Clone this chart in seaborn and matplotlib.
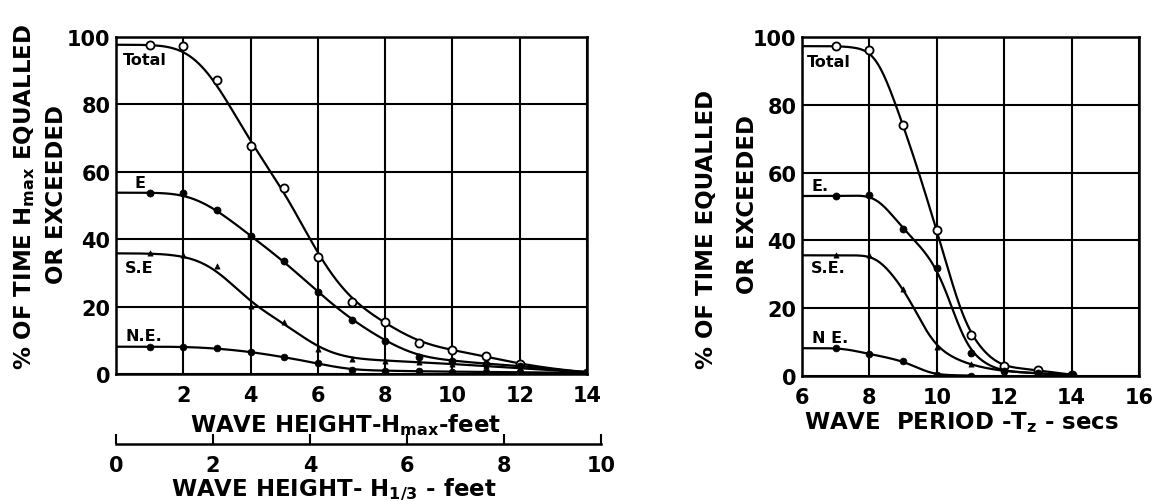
import numpy as np
import pandas as pd
import matplotlib
matplotlib.use("Agg")
import matplotlib.pyplot as plt
import seaborn as sns

# ---- exceedance data, wave height H_max (feet) ----
hmax_ft = [1, 2, 3, 4, 5, 6, 7, 8, 9, 10, 11, 12, 14]
hmax_total = [97.7, 97.4, 87.1, 67.8, 55.2, 34.7, 21.4, 15.3, 9.2, 7.1, 5.2, 3.0, 0.3]
hmax_east = [53.8, 53.8, 48.8, 40.9, 33.5, 24.3, 16.0, 9.9, 5.0, 4.0, 3.0, 2.4, 0.3]
hmax_southeast = [35.8, 35.3, 31.9, 20.3, 15.5, 7.3, 4.5, 4.0, 3.5, 3.0, 2.3, 1.8, 0.3]
hmax_northeast = [8.1, 8.1, 7.6, 6.6, 5.0, 3.2, 1.1, 1.0, 0.8, 0.7, 0.6, 0.5, 0.3]

# ---- exceedance data, wave period Tz (secs) ----
tz_secs = [7, 8, 9, 10, 11, 12, 13, 14]
tz_total = [97.3, 96.2, 73.9, 43.0, 12.1, 2.9, 1.7, 0.3]
tz_east = [53.1, 53.3, 43.5, 32.0, 6.9, 1.5, 0.8, 0.2]
tz_southeast = [35.6, 35.6, 25.8, 8.5, 3.4, 1.5, 0.8, 0.2]
tz_northeast_secs = [7, 8, 9, 10, 11]
tz_northeast = [8.2, 6.5, 4.3, 0.4, 0.1]

series_names = ["Total", "E", "S.E", "N.E."]
tz_series_names = ["Total", "E.", "S.E.", "N E."]

hmax_ticks = [2, 4, 6, 8, 10, 12, 14]
h13_ticks = [0, 2, 4, 6, 8, 10]
tz_ticks = [6, 8, 10, 12, 14, 16]
pct_ticks = [0, 20, 40, 60, 80, 100]

sns.set_style("white")
plt.rcParams["font.family"] = ["DejaVu Sans"]
plt.rcParams["font.weight"] = "bold"
plt.rcParams["text.color"] = "black"
plt.rcParams["axes.labelcolor"] = "black"
plt.rcParams["xtick.color"] = "black"
plt.rcParams["ytick.color"] = "black"
plt.rcParams["mathtext.fontset"] = "custom"
plt.rcParams["mathtext.rm"] = "DejaVu Sans:bold"
plt.rcParams["mathtext.it"] = "DejaVu Sans:bold"
plt.rcParams["mathtext.bf"] = "DejaVu Sans:bold"
plt.rcParams["mathtext.default"] = "rm"

W, H = 1158, 502
LABEL_FS = 16.5
fig = plt.figure(figsize=(W / 100, H / 100), dpi=100)


def px_axes(x0, y_top, x1, y_bot):
    return fig.add_axes([x0 / W, 1 - y_bot / H, (x1 - x0) / W, (y_bot - y_top) / H])


def smooth(x, y, sigma, n=1600):
    """Monotone cubic through the points, then a Gaussian fairing of the curve."""
    x = np.asarray(x, float)
    y = np.asarray(y, float)
    h = np.diff(x)
    d = np.diff(y) / h
    m = np.zeros_like(y)
    m[0], m[-1] = d[0], d[-1]
    for k in range(1, len(x) - 1):
        if d[k - 1] * d[k] <= 0:
            m[k] = 0.0
        else:
            w1 = 2 * h[k] + h[k - 1]
            w2 = h[k] + 2 * h[k - 1]
            m[k] = (w1 + w2) / (w1 / d[k - 1] + w2 / d[k])
    xs = np.linspace(x[0], x[-1], n)
    idx = np.clip(np.searchsorted(x, xs) - 1, 0, len(x) - 2)
    t = (xs - x[idx]) / h[idx]
    h00 = 2 * t**3 - 3 * t**2 + 1
    h10 = t**3 - 2 * t**2 + t
    h01 = -2 * t**3 + 3 * t**2
    h11 = t**3 - t**2
    ys = h00 * y[idx] + h10 * h[idx] * m[idx] + h01 * y[idx + 1] + h11 * h[idx] * m[idx + 1]
    dx = xs[1] - xs[0]
    half = int(4 * sigma / dx)
    kern = np.exp(-0.5 * (np.arange(-half, half + 1) * dx / sigma) ** 2)
    kern /= kern.sum()
    ys = np.convolve(np.pad(ys, half, mode="edge"), kern, mode="valid")
    return xs, ys


def style_axes(ax, xlim, xticks):
    ax.set_xlim(*xlim)
    ax.set_ylim(0, 100)
    ax.set_xticks(xticks)
    ax.set_yticks(pct_ticks)
    ax.grid(True, color="black", linewidth=1.5)
    ax.set_axisbelow(True)
    for s in ax.spines.values():
        s.set_color("black")
        s.set_linewidth(1.8)
    ax.tick_params(length=0, labelsize=15, pad=8, colors="black")
    ax.tick_params(axis="y", pad=4)
    ax.set_xlabel("")
    ax.set_ylabel("")


marker_styles = {
    0: dict(marker="o", s=34, facecolor="white", edgecolor="black", linewidth=1.3),
    1: dict(marker="o", s=26, color="black", edgecolor="black", linewidth=0.5),
    2: dict(marker="^", s=14, color="black", edgecolor="black", linewidth=0.5),
    3: dict(marker="o", s=24, color="black", edgecolor="black", linewidth=0.5),
}


def draw_series(ax, x, y, x_start, style_i, sigma):
    cx, cy = smooth([x_start] + list(x), [y[0]] + list(y), sigma)
    sns.lineplot(x=cx, y=cy, ax=ax, color="black", linewidth=1.6,
                 estimator=None, sort=False)
    pts = pd.DataFrame({"x": x, "y": y})
    sns.scatterplot(data=pts, x="x", y="y", ax=ax, zorder=5, **marker_styles[style_i])


# ---------------- left panel: wave height ----------------
axL = px_axes(116, 38, 587, 375)
for i, vals in enumerate([hmax_total, hmax_east, hmax_southeast, hmax_northeast]):
    draw_series(axL, hmax_ft, vals, 0, i, sigma=0.6)
style_axes(axL, (0, 14), hmax_ticks)

for name, (tx, ty) in zip(series_names, [(0.2, 93.3), (0.55, 56.8), (0.27, 31.5), (0.27, 11.4)]):
    axL.text(tx, ty, name, fontsize=11.5, fontweight="bold", va="center", ha="left")

fig.text(346 / W, 1 - 425 / H, r"WAVE HEIGHT-H$_{max}$-feet", fontsize=LABEL_FS,
         ha="center", va="center")
fig.text(25 / W, 1 - 197 / H, r"% OF TIME H$_{max}$ EQUALLED", fontsize=LABEL_FS,
         rotation=90, ha="center", va="center")
fig.text(57 / W, 1 - 195 / H, "OR EXCEEDED", fontsize=LABEL_FS,
         rotation=90, ha="center", va="center")

# secondary scale: significant wave height H1/3
axS = px_axes(116, 444, 601, 445)
axS.set_xlim(0, 10)
axS.set_ylim(0, 1)
axS.set_xticks(h13_ticks)
axS.set_yticks([])
for side in ["top", "left", "right"]:
    axS.spines[side].set_visible(False)
axS.spines["bottom"].set_linewidth(1.8)
axS.spines["bottom"].set_color("black")
axS.tick_params(axis="x", bottom=True, direction="in", length=7, width=1.5,
                labelsize=15, pad=8, colors="black")
axS.patch.set_alpha(0)
fig.text(334 / W, 1 - 490 / H, r"WAVE HEIGHT- H$_{1/3}$ - feet", fontsize=LABEL_FS,
         ha="center", va="center")

# ---------------- right panel: wave period ----------------
axR = px_axes(802, 38, 1139, 377)
for i, (xs, vals) in enumerate([(tz_secs, tz_total), (tz_secs, tz_east),
                                (tz_secs, tz_southeast), (tz_northeast_secs, tz_northeast)]):
    draw_series(axR, xs, vals, 6, i, sigma=0.28)
style_axes(axR, (6, 16), tz_ticks)

for name, (tx, ty) in zip(tz_series_names, [(6.14, 92.7), (6.29, 56.1), (6.27, 32.1), (6.29, 11.4)]):
    axR.text(tx, ty, name, fontsize=11.5, fontweight="bold", va="center", ha="left")

fig.text(962 / W, 1 - 423 / H, r"WAVE  PERIOD -T$_{z}$ - secs", fontsize=LABEL_FS,
         ha="center", va="center")
fig.text(707 / W, 1 - 229 / H, "% OF TIME EQUALLED", fontsize=LABEL_FS,
         rotation=90, ha="center", va="center")
fig.text(748 / W, 1 - 204 / H, "OR EXCEEDED", fontsize=LABEL_FS,
         rotation=90, ha="center", va="center")

fig.savefig("out.png", dpi=100, facecolor="white")
